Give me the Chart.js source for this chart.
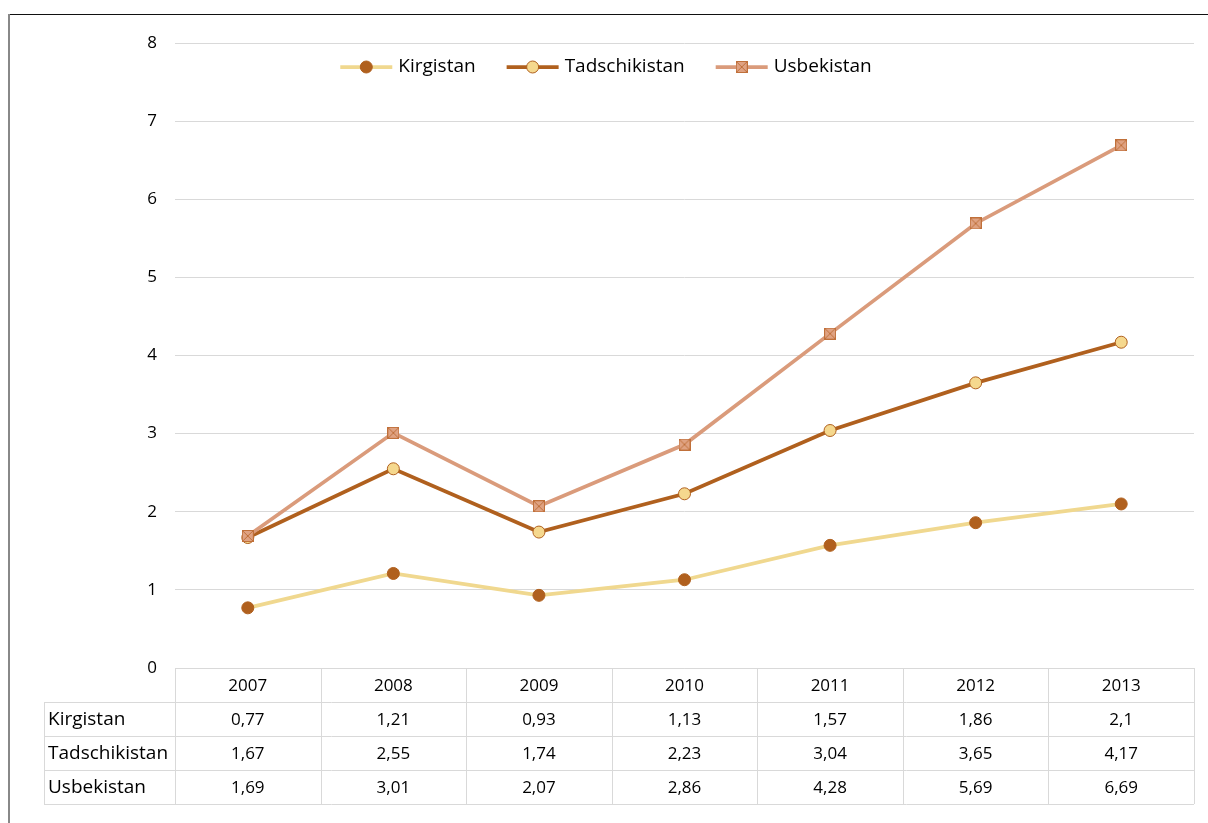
<!DOCTYPE html>
<html>
<head>
<meta charset="utf-8">
<script src="https://cdn.jsdelivr.net/npm/chart.js@4/dist/chart.umd.min.js"></script>
<style>
  html, body { margin: 0; padding: 0; background: #fff; }
  #wrap { position: relative; width: 1208px; height: 823px; overflow: hidden; }
  #frameTop { position: absolute; left: 8px; top: 14px; width: 1210px; height: 1px; background: #111; }
  #frameLeft { position: absolute; left: 8px; top: 14px; width: 2px; height: 820px; background: #888; }
  canvas { position: absolute; left: 0; top: 0; }
</style>
</head>
<body>
<div id="wrap">
  <div id="frameTop"></div>
  <div id="frameLeft"></div>
  <canvas id="c" width="1208" height="823"></canvas>
</div>
<script>
const years = ['2007', '2008', '2009', '2010', '2011', '2012', '2013'];
const kirgistan = [0.77, 1.21, 0.93, 1.13, 1.57, 1.86, 2.1];
const tadschikistan = [1.67, 2.55, 1.74, 2.23, 3.04, 3.65, 4.17];
const usbekistan = [1.69, 3.01, 2.07, 2.86, 4.28, 5.69, 6.69];
const seriesNames = ['Kirgistan', 'Tadschikistan', 'Usbekistan'];
const yTicks = [0, 1, 2, 3, 4, 5, 6, 7, 8];

const FONT = '"Open Sans", "Noto Sans", sans-serif';
const FS_NUM = 17;
const FS_TXT = 19;
const GRID = '#d9d9d9';

function crossSquare(size, fill, stroke) {
  const cv = document.createElement('canvas');
  cv.width = size; cv.height = size;
  const x = cv.getContext('2d');
  x.fillStyle = fill; x.fillRect(0, 0, size, size);
  x.strokeStyle = stroke; x.lineWidth = 1;
  x.strokeRect(0.5, 0.5, size - 1, size - 1);
  x.beginPath();
  x.moveTo(1, 1); x.lineTo(size - 1, size - 1);
  x.moveTo(size - 1, 1); x.lineTo(1, size - 1);
  x.stroke();
  return cv;
}
const xMarker = crossSquare(12, '#DFA282', '#C0703A');

const styles = [
  { line: '#F0D88F', fill: '#B0601E', border: '#B0601E', style: 'circle' },
  { line: '#B0601E', fill: '#F5D88E', border: '#B0601E', style: 'circle' },
  { line: '#DA9B7B', fill: '#DFA282', border: '#C0703A', style: xMarker }
];
const values = [kirgistan, tadschikistan, usbekistan];

const datasets = values.map((v, i) => ({
  label: seriesNames[i],
  data: v,
  order: values.length - i,
  borderColor: styles[i].line,
  backgroundColor: styles[i].fill,
  pointBackgroundColor: styles[i].fill,
  pointBorderColor: styles[i].border,
  pointBorderWidth: 1,
  pointStyle: styles[i].style,
  pointRadius: 6,
  borderWidth: 3.75,
  tension: 0,
  clip: false
}));

function fmt(v) { return String(v).replace('.', ','); }

const legendPlugin = {
  id: 'customLegend',
  afterDraw(chart) {
    const ctx = chart.ctx;
    ctx.save();
    ctx.font = FS_TXT + 'px ' + FONT;
    const lineLen = 52, gap = 6, spacing = 31;
    const widths = seriesNames.map(n => lineLen + gap + ctx.measureText(n).width);
    const total = widths.reduce((a, b) => a + b, 0) + spacing * (widths.length - 1);
    let x = 606 - total / 2;
    const y = 67;
    chart.data.datasets.forEach((ds, i) => {
      ctx.strokeStyle = ds.borderColor;
      ctx.lineWidth = 3.75;
      ctx.beginPath(); ctx.moveTo(x, y); ctx.lineTo(x + lineLen, y); ctx.stroke();
      const mx = x + lineLen / 2;
      if (typeof ds.pointStyle === 'string') {
        ctx.beginPath(); ctx.arc(mx, y, 6, 0, Math.PI * 2);
        ctx.fillStyle = ds.pointBackgroundColor; ctx.fill();
        ctx.strokeStyle = ds.pointBorderColor; ctx.lineWidth = 1; ctx.stroke();
      } else {
        ctx.drawImage(ds.pointStyle, mx - 6, y - 6);
      }
      ctx.fillStyle = '#000';
      ctx.textAlign = 'left'; ctx.textBaseline = 'middle';
      ctx.fillText(ds.label, x + lineLen + gap, y);
      x += widths[i] + spacing;
    });
    ctx.restore();
  }
};

const tablePlugin = {
  id: 'dataTable',
  afterDraw(chart) {
    const ctx = chart.ctx;
    const area = chart.chartArea;
    const left = area.left, right = area.right;
    const top = area.bottom;
    const rowH = 34;
    const labelLeft = 44;
    const n = years.length;
    const colW = (right - left) / n;
    ctx.save();
    ctx.strokeStyle = GRID;
    ctx.lineWidth = 1;
    ctx.beginPath();
    ctx.moveTo(left, top + 0.5); ctx.lineTo(right, top + 0.5);
    for (let r = 1; r <= 4; r++) {
      const yy = Math.round(top + r * rowH) + 0.5;
      ctx.moveTo(labelLeft, yy); ctx.lineTo(right, yy);
    }
    for (let c = 0; c <= n; c++) {
      const xx = Math.round(left + c * colW) + 0.5;
      ctx.moveTo(xx, top); ctx.lineTo(xx, top + 4 * rowH);
    }
    ctx.moveTo(labelLeft + 0.5, top + rowH); ctx.lineTo(labelLeft + 0.5, top + 4 * rowH);
    ctx.stroke();
    ctx.fillStyle = '#000';
    ctx.textBaseline = 'middle';
    ctx.textAlign = 'center';
    ctx.font = FS_NUM + 'px ' + FONT;
    years.forEach((y, c) => ctx.fillText(y, left + (c + 0.5) * colW, top + rowH / 2 + 1));
    values.forEach((vals, r) => {
      const cy = top + (r + 1.5) * rowH + 1;
      ctx.textAlign = 'left';
      ctx.font = FS_TXT + 'px ' + FONT;
      ctx.fillText(seriesNames[r], labelLeft + 4, cy);
      ctx.textAlign = 'center';
      ctx.font = FS_NUM + 'px ' + FONT;
      vals.forEach((v, c) => ctx.fillText(fmt(v), left + (c + 0.5) * colW, cy));
    });
    ctx.restore();
  }
};

new Chart(document.getElementById('c'), {
  type: 'line',
  data: { labels: years, datasets },
  options: {
    responsive: false,
    devicePixelRatio: 1,
    animation: false,
    layout: { padding: { left: 0, right: 14, top: 43, bottom: 155 } },
    plugins: { legend: { display: false }, tooltip: { enabled: false } },
    scales: {
      x: { display: false, offset: true },
      y: {
        min: 0, max: 8,
        afterBuildTicks(scale) { scale.ticks = yTicks.map(v => ({ value: v })); },
        afterFit(scale) { scale.width = 175; },
        border: { display: false },
        grid: { color: GRID, lineWidth: 1, drawTicks: false },
        ticks: { color: '#000', font: { family: FONT, size: FS_NUM }, padding: 18 }
      }
    }
  },
  plugins: [legendPlugin, tablePlugin]
});
</script>
</body>
</html>
